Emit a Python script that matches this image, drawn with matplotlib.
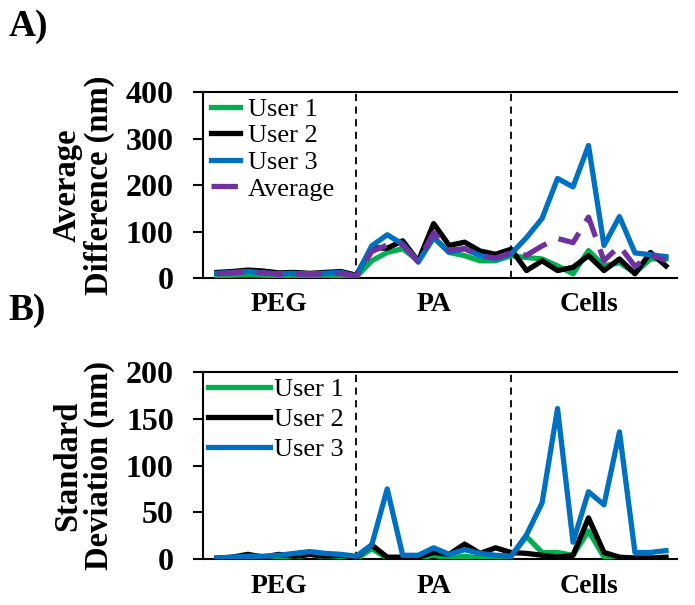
import matplotlib
matplotlib.use("Agg")
import matplotlib.pyplot as plt

plt.rcParams['font.family'] = ['Liberation Serif', 'DejaVu Serif']

x = list(range(30))
regions = ["PEG", "PA", "Cells"]
region_pos = [4, 14, 24]
dividers = [9, 19]

# A) average difference (nm)
user1_a = [5, 6, 7, 6, 5, 6, 5, 6, 5, 2,
           37, 55, 63, 37, 87, 55, 48, 37, 37, 48,
           44, 41, 26, 9, 59, 26, 33, 11, 41, 41]
user2_a = [12, 14, 17, 15, 11, 12, 10, 12, 14, 6,
           65, 64, 80, 36, 117, 70, 77, 58, 51, 62,
           16, 37, 16, 23, 48, 16, 41, 9, 55, 26]
user3_a = [10, 12, 14, 11, 9, 10, 9, 10, 12, 4,
           69, 93, 73, 34, 87, 55, 63, 48, 41, 52,
           87, 128, 214, 196, 285, 70, 132, 54, 50, 46]
avg_a = [9, 11, 13, 11, 8, 9, 8, 9, 10, 4,
         57, 71, 72, 36, 97, 60, 63, 48, 43, 54,
         49, 69, 85, 76, 131, 37, 69, 25, 49, 38]

# B) standard deviation (nm)
user1_b = [0, 1, 1, 1, 1, 2, 5, 2, 1, 0,
           11, 1, 1, 1, 4, 1, 3, 1, 1, 3,
           24, 7, 7, 4, 30, 2, 1, 1, 1, 1]
user2_b = [1, 2, 5, 2, 5, 3, 5, 3, 4, 2,
           15, 2, 2, 2, 7, 5, 16, 6, 12, 7,
           6, 4, 2, 4, 44, 7, 2, 1, 1, 2]
user3_b = [1, 2, 3, 3, 4, 6, 8, 6, 5, 3,
           15, 75, 4, 4, 12, 5, 10, 6, 4, 3,
           26, 60, 161, 18, 72, 58, 136, 7, 7, 9]

GREEN = '#00B050'
BLACK = '#000000'
BLUE = '#0070C0'
PURPLE = '#7030A0'
LW = 3.8


def style_axes(ax, ymax, step, ylabel):
    ax.set_xlim(-0.9, 29.71)
    ax.set_ylim(0, ymax)
    ax.set_yticks(range(0, ymax + 1, step))
    ax.set_xticks([])
    ax.spines['right'].set_visible(False)
    for s in ['left', 'bottom', 'top']:
        ax.spines[s].set_linewidth(1.5)
    ax.tick_params(axis='y', direction='out', length=7, width=1.5, pad=14,
                   labelsize=23)
    for lab in ax.get_yticklabels():
        lab.set_fontweight('bold')
    ax.set_ylabel(ylabel, fontsize=23.5, fontweight='bold', linespacing=1.05)
    ax.yaxis.set_label_coords(-0.185, 0.5)
    for d in dividers:
        ax.axvline(d, color='black', lw=1.3, ls=(0, (4, 3)), zorder=1)
    for name, p in zip(regions, region_pos):
        ax.text(p, -0.145, name, transform=ax.get_xaxis_transform(),
                ha='center', va='center', fontsize=20, fontweight='bold')


fig = plt.figure(figsize=(6.95, 6.05), dpi=100)

ax1 = fig.add_axes([0.292, 0.5405, 0.682, 0.3074])
ax1.plot(x, user1_a, color=GREEN, lw=LW, label='User 1', zorder=3)
ax1.plot(x, user2_a, color=BLACK, lw=LW, label='User 2', zorder=3)
ax1.plot(x, user3_a, color=BLUE, lw=LW, label='User 3', zorder=3)
ax1.plot(x, avg_a, color=PURPLE, lw=LW, ls=(0, (5, 2.5)), label='Average', zorder=4)
style_axes(ax1, 400, 100, 'Average\nDifference (nm)')
ax1.legend(loc='upper left', bbox_to_anchor=(0.005, 1.0), frameon=False,
           fontsize=19, handlelength=1.1, handletextpad=0.3, labelspacing=0.12,
           borderpad=0.1, borderaxespad=0.1)

ax2 = fig.add_axes([0.292, 0.076, 0.682, 0.309])
ax2.plot(x, user1_b, color=GREEN, lw=LW, label='User 1', zorder=3)
ax2.plot(x, user2_b, color=BLACK, lw=LW, label='User 2', zorder=3)
ax2.plot(x, user3_b, color=BLUE, lw=LW, label='User 3', zorder=3)
style_axes(ax2, 200, 50, 'Standard\nDeviation (nm)')
ax2.legend(loc='upper left', bbox_to_anchor=(0.0, 1.0), frameon=False,
           fontsize=19, handlelength=2.35, handletextpad=0.15, labelspacing=0.25,
           borderpad=0.1, borderaxespad=0.1)

fig.text(0.012, 0.985, 'A)', fontsize=27, fontweight='bold', va='top')
fig.text(0.012, 0.515, 'B)', fontsize=27, fontweight='bold', va='top')

fig.savefig('out.png', dpi=100)
